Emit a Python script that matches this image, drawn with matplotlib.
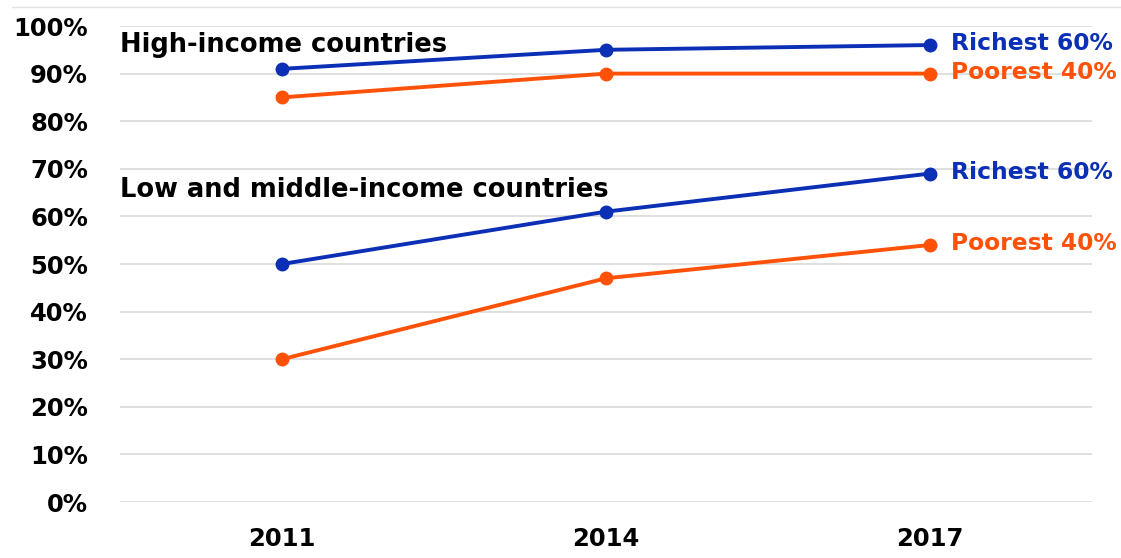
import matplotlib.pyplot as plt
from matplotlib.lines import Line2D

years = ["2011", "2014", "2017"]
high_richest = [91, 95, 96]
high_poorest = [85, 90, 90]
low_richest = [50, 61, 69]
low_poorest = [30, 47, 54]

blue = "#0B2FB5"
orange = "#FF5208"

plt.rcParams["font.family"] = ["DejaVu Sans"]

fig = plt.figure(figsize=(11.21, 5.58), dpi=100)
ax = fig.add_axes([120 / 1121, 56 / 558, 972 / 1121, 476 / 558])

x = range(len(years))
for vals, col in [(high_richest, blue), (high_poorest, orange),
                  (low_richest, blue), (low_poorest, orange)]:
    ax.plot(x, vals, color=col, lw=2.8, marker="o", ms=9, clip_on=False, zorder=3)

# etiquettes a droite (legerement reduites pour tenir dans l'image)
for vals, col, lab in [(high_richest, blue, "Richest 60%"), (high_poorest, orange, "Poorest 40%"),
                       (low_richest, blue, "Richest 60%"), (low_poorest, orange, "Poorest 40%")]:
    ax.annotate(lab, (2, vals[-1]), xytext=(15, 1), textcoords="offset points",
                color=col, fontsize=16.8, fontweight="bold", va="center", annotation_clip=False)

ax.text(0, 96.0, "High-income countries", transform=ax.get_yaxis_transform(),
        fontsize=18.5, fontweight="bold", va="center", ha="left")
ax.text(0, 65.6, "Low and middle-income countries", transform=ax.get_yaxis_transform(),
        fontsize=18.5, fontweight="bold", va="center", ha="left")

ax.set_xlim(-0.5, 2.5)
ax.set_ylim(0, 100)
ax.set_yticks(range(0, 101, 10))
ax.set_yticklabels([f"{v}%" for v in range(0, 101, 10)])
ax.set_xticks(list(x))
ax.set_xticklabels(years)
ax.grid(axis="y", color="#d9d9d9", lw=1.2)
ax.set_axisbelow(True)
for s in ax.spines.values():
    s.set_visible(False)
ax.tick_params(length=0, labelsize=17.5)
ax.tick_params(axis="y", pad=23)
ax.tick_params(axis="x", pad=18)
for t in ax.get_xticklabels() + ax.get_yticklabels():
    t.set_fontweight("bold")

fig.add_artist(Line2D([12 / 1121, 1], [551 / 558, 551 / 558], color="#e3e3e3", lw=1))

fig.savefig("out.png", dpi=100)
